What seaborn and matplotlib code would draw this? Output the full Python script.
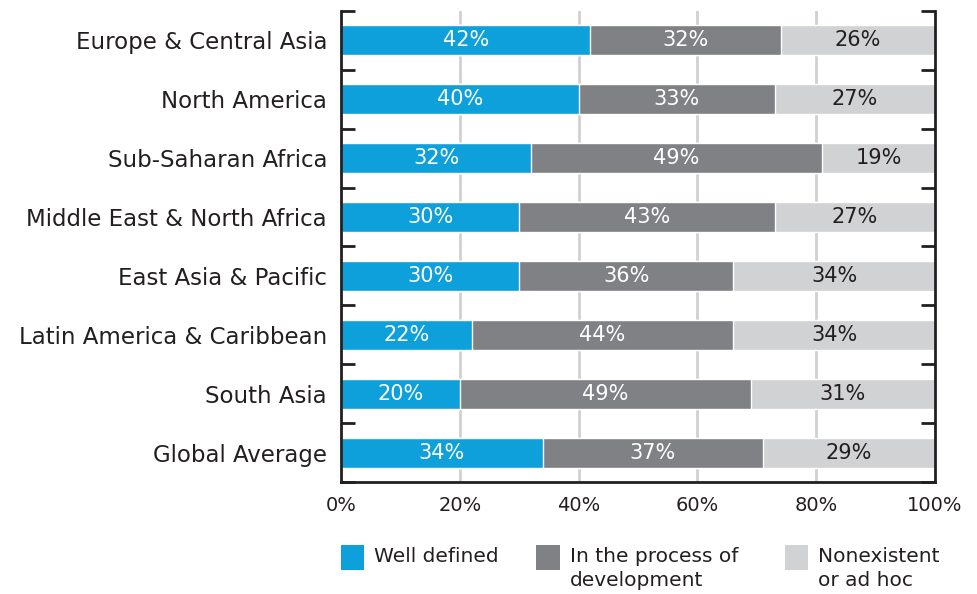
import matplotlib.pyplot as plt
from matplotlib.patches import Rectangle
import seaborn as sns
import pandas as pd
import numpy as np

# Data (percent of respondents)
regions = ['Europe & Central Asia', 'North America', 'Sub-Saharan Africa',
           'Middle East & North Africa', 'East Asia & Pacific',
           'Latin America & Caribbean', 'South Asia', 'Global Average']
well_defined = [42, 40, 32, 30, 30, 22, 20, 34]
in_process = [32, 33, 49, 43, 36, 44, 49, 37]
nonexistent = [26, 27, 19, 27, 34, 34, 31, 29]

series_names = ['Well defined', 'In the process of\ndevelopment', 'Nonexistent\nor ad hoc']
x_ticks = [0, 20, 40, 60, 80, 100]
x_tick_labels = ['0%', '20%', '40%', '60%', '80%', '100%']

blue = '#0ea0db'
dark_gray = '#808184'
light_gray = '#d1d2d4'
ink = '#231f20'

df = pd.DataFrame({'region': regions, 'well': well_defined,
                   'process': in_process, 'none': nonexistent})
df['cum_process'] = df['well'] + df['process']
df['cum_none'] = df['cum_process'] + df['none']

sns.set_style('white')
plt.rcParams['font.family'] = ['DejaVu Sans']

fig = plt.figure(figsize=(9.77, 5.94), dpi=100)
ax = fig.add_axes([0.349, 0.1886, 0.608, 0.793])

bar_w = 0.51
# stacked by drawing cumulative totals back to front
sns.barplot(data=df, x='cum_none', y='region', color=light_gray, saturation=1,
            width=bar_w, orient='h', ax=ax, zorder=2)
sns.barplot(data=df, x='cum_process', y='region', color=dark_gray, saturation=1,
            width=bar_w, orient='h', ax=ax, zorder=2)
sns.barplot(data=df, x='well', y='region', color=blue, saturation=1,
            width=bar_w, orient='h', ax=ax, zorder=2)

# segment labels
for i, row in df.iterrows():
    ax.text(row['well'] / 2, i, f"{row['well']}%", ha='center', va='center',
            color='white', fontsize=15, zorder=3)
    ax.text(row['well'] + row['process'] / 2, i, f"{row['process']}%", ha='center',
            va='center', color='white', fontsize=15, zorder=3)
    ax.text(row['cum_process'] + row['none'] / 2, i, f"{row['none']}%", ha='center',
            va='center', color=ink, fontsize=15, zorder=3)

ax.set_xlim(0, 100)
ax.set_ylim(len(regions) - 0.5, -0.5)
ax.set_xlabel('')
ax.set_ylabel('')

ax.set_xticks(x_ticks)
ax.set_xticklabels(x_tick_labels, fontsize=14, color=ink)
ax.tick_params(axis='x', length=0, pad=10)
ax.set_yticks(range(len(regions)))
ax.set_yticklabels(regions, fontsize=16.5, color=ink)
ax.tick_params(axis='y', which='major', length=0, pad=10)
ax.set_yticks(np.arange(-0.5, len(regions), 1), minor=True)
ax.tick_params(axis='y', which='minor', direction='in', length=10, width=2,
               color=ink, left=True, right=True)

# vertical gridlines
for xv in x_ticks[1:-1]:
    ax.axvline(xv, color='#d0d0d0', lw=2, zorder=1)

for side in ['left', 'right', 'bottom']:
    ax.spines[side].set_visible(True)
    ax.spines[side].set_color(ink)
    ax.spines[side].set_linewidth(2)
ax.spines['top'].set_visible(False)

# legend below the chart
legend_x = [0.349, 0.549, 0.803]
legend_colors = [blue, dark_gray, light_gray]
for lx, col, name in zip(legend_x, legend_colors, series_names):
    fig.patches.append(Rectangle((lx, 0.04), 0.024, 0.042, transform=fig.transFigure,
                                 facecolor=col, edgecolor='none'))
    fig.text(lx + 0.034, 0.079, name, ha='left', va='top', fontsize=14.5,
             color=ink, linespacing=1.35)

fig.savefig('out.png', dpi=100)
